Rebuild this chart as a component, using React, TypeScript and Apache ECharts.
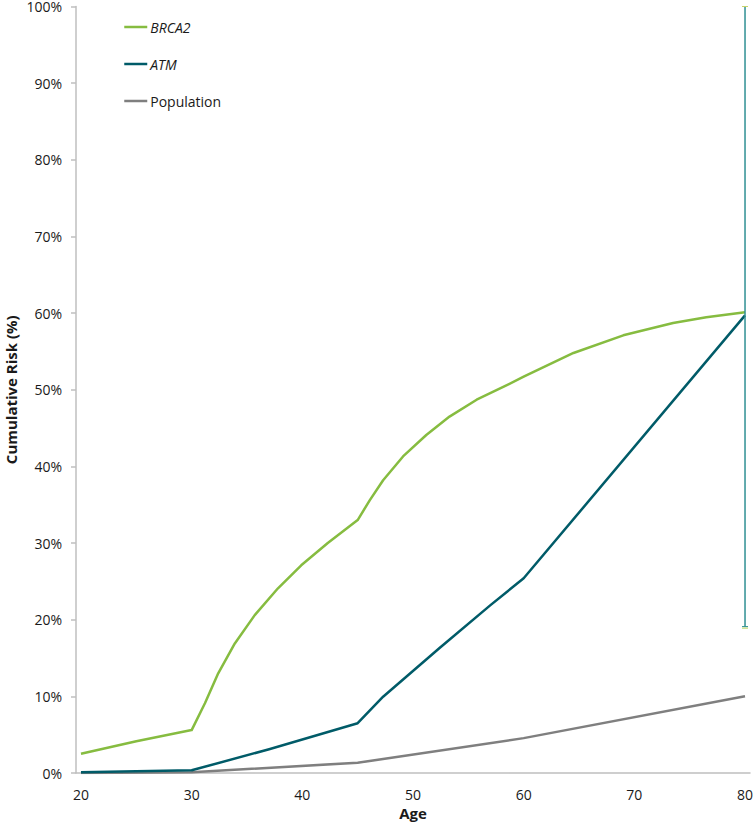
import React, { useEffect, useRef } from "react";
import * as echarts from "echarts";

const ageTicks = [20, 30, 40, 50, 60, 70, 80];

const brca2Data: [number, number][] = [
  [20, 2.5], [25, 4.15], [30, 5.6], [31.2, 9.1], [32.4, 13.0], [33.9, 16.9],
  [35.7, 20.6], [37.8, 24.1], [39.9, 27.1], [42.3, 30.0], [45, 33.0],
  [46.1, 35.6], [47.3, 38.2], [49.1, 41.3], [51.2, 44.1], [53.3, 46.5],
  [55.75, 48.7], [58.2, 50.4], [60, 51.7], [64.5, 54.8], [69, 57.1],
  [73.5, 58.7], [76.5, 59.45], [80, 60.1],
];

const atmData: [number, number][] = [
  [20, 0.1], [30, 0.35], [37, 3.1], [45, 6.5], [47.3, 9.95], [52.4, 16.3],
  [57, 21.9], [60, 25.4], [80, 59.7],
];

const populationData: [number, number][] = [
  [20, 0], [30, 0.1], [45, 1.35], [60, 4.55], [80, 10],
];

// [age, lower, upper]
const errorBarData: [number, number, number][] = [[80, 19.1, 100]];

const FONT = "'Open Sans', sans-serif";
const GREEN = "#86bc40";
const TEAL = "#005b68";
const GREY = "#7f7f7f";
const ERR = "#2f8f93";

export default function App() {
  const ref = useRef<HTMLDivElement>(null);
  useEffect(() => {
    if (!ref.current) return;
    const chart = echarts.init(ref.current, undefined, { renderer: "svg" });
    chart.setOption({
      animation: false,
      backgroundColor: "#ffffff",
      textStyle: { fontFamily: FONT },
      grid: { left: 76, right: 4, top: 6.5, bottom: 57, outerBoundsMode: "none", containLabel: false },
      legend: {
        data: ["BRCA2", "ATM", "Population"],
        orient: "vertical",
        left: 118,
        top: 15,
        itemWidth: 23,
        itemHeight: 14,
        itemGap: 23,
        itemStyle: { opacity: 0 },
        lineStyle: { width: 2.5 },
        formatter: (name: string) => (name === "Population" ? `{n|${name}}` : `{i|${name}}`),
        textStyle: {
          fontFamily: FONT,
          fontSize: 14,
          color: "#1a1a1a",
          padding: [0, 0, 0, -2],
          rich: {
            i: { fontStyle: "italic", fontFamily: FONT, fontSize: 14, color: "#1a1a1a" },
            n: { fontFamily: FONT, fontSize: 14, color: "#1a1a1a" },
          },
        },
      },
      xAxis: {
        type: "value",
        min: 19.55,
        max: 80.45,
        name: "Age",
        nameLocation: "middle",
        nameGap: 28,
        nameTextStyle: { fontFamily: FONT, fontSize: 15, fontWeight: "bold", color: "#1a1a1a" },
        axisLine: { show: true, lineStyle: { color: "#bfbfbf", width: 1.5 } },
        axisTick: { show: false },
        splitLine: { show: false },
        axisLabel: {
          customValues: ageTicks,
          fontFamily: FONT,
          fontSize: 14,
          color: "#1a1a1a",
          margin: 14,
        },
      },
      yAxis: {
        type: "value",
        min: 0,
        max: 100,
        interval: 10,
        name: "Cumulative Risk (%)",
        nameLocation: "middle",
        nameGap: 57,
        nameMoveOverlap: false,
        nameTextStyle: { fontFamily: FONT, fontSize: 15, fontWeight: "bold", color: "#1a1a1a", lineHeight: 16 },
        axisLine: { show: true, lineStyle: { color: "#bfbfbf", width: 1.5 } },
        axisTick: { show: true, length: 5, lineStyle: { color: "#bfbfbf", width: 1.5 } },
        splitLine: { show: false },
        axisLabel: {
          formatter: "{value}%",
          fontFamily: FONT,
          fontSize: 14,
          lineHeight: 14,
          color: "#1a1a1a",
          margin: 14,
          showMaxLabel: true,
        },
      },
      series: [
        {
          name: "BRCA2",
          type: "line",
          data: brca2Data,
          symbol: "none",
          showSymbol: false,
          lineStyle: { color: GREEN, width: 2.5, join: "round" },
          itemStyle: { color: GREEN },
          z: 3,
        },
        {
          name: "ATM",
          type: "line",
          data: atmData,
          symbol: "none",
          showSymbol: false,
          lineStyle: { color: TEAL, width: 2.5, join: "round" },
          itemStyle: { color: TEAL },
          z: 3,
        },
        {
          name: "Population",
          type: "line",
          data: populationData,
          symbol: "none",
          showSymbol: false,
          lineStyle: { color: GREY, width: 2.5, join: "round" },
          itemStyle: { color: GREY },
          z: 2,
        },
        {
          name: "ATM range",
          type: "custom",
          data: errorBarData,
          encode: { x: 0, y: [1, 2] },
          clip: false,
          z: 4,
          renderItem: (params: any, api: any) => {
            const x = api.value(0);
            const lo = api.coord([x, api.value(1)]);
            const hi = api.coord([x, api.value(2)]);
            const w = 3;
            return {
              type: "group",
              children: [
                { type: "line", shape: { x1: lo[0], y1: lo[1], x2: hi[0], y2: hi[1] }, style: { stroke: ERR, lineWidth: 1.5 } },
                { type: "line", shape: { x1: lo[0] - w, y1: lo[1], x2: lo[0] + w, y2: lo[1] }, style: { stroke: ERR, lineWidth: 1 } },
                { type: "line", shape: { x1: lo[0] - w, y1: lo[1] + 1.5, x2: lo[0] + w, y2: lo[1] + 1.5 }, style: { stroke: "#b5d35a", lineWidth: 1 } },
                { type: "line", shape: { x1: hi[0] - w, y1: hi[1], x2: hi[0] + w, y2: hi[1] }, style: { stroke: "#c8d46a", lineWidth: 1 } },
              ],
            };
          },
        },
      ],
    });
    return () => chart.dispose();
  }, []);
  return (
    <div
      ref={ref}
      style={{ position: "fixed", left: 0, top: 0, width: 754, height: 830, background: "#fff" }}
    />
  );
}
